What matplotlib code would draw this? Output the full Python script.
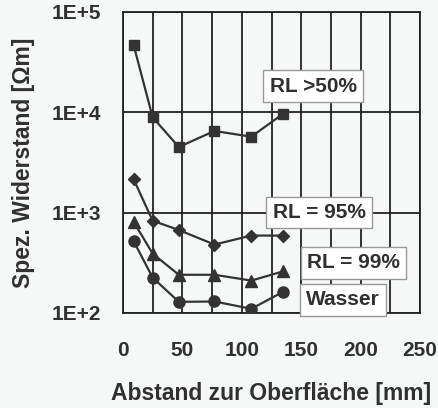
import matplotlib.pyplot as plt
import numpy as np

# Abstand zur Oberfläche [mm]
abstand = [9, 25, 47, 77, 108, 135]

# Spez. Widerstand [Ohm m]
rl_50 = [46700, 8900, 4500, 6500, 5700, 9700]
rl_95 = [2150, 830, 670, 480, 590, 590]
rl_99 = [810, 390, 240, 240, 210, 260]
wasser = [520, 225, 129, 130, 110, 163]

series = [
    (rl_50, 's', 'RL >50%', (160, 10 ** 4.26)),
    (rl_95, 'D', 'RL = 95%', (165, 10 ** 3.0)),
    (rl_99, '^', 'RL = 99%', (194, 10 ** 2.5)),
    (wasser, 'o', 'Wasser', (185, 10 ** 2.13)),
]

plt.rcParams['font.family'] = ['Liberation Sans', 'DejaVu Sans']
plt.rcParams['font.weight'] = 'bold'

fig = plt.figure(figsize=(4.39, 4.08), dpi=100)
fig.patch.set_facecolor('#f6f8f8')
ax = fig.add_axes([0.280, 0.233, 0.677, 0.738])
ax.set_facecolor('#f6f8f8')

dark = '#333333'
msizes = {'s': 7.5, 'D': 6.5, '^': 8, 'o': 8}
for vals, m, label, pos in series:
    ax.plot(abstand, vals, color=dark, marker=m, markersize=msizes[m],
            linewidth=1.6, markerfacecolor=dark, markeredgecolor=dark,
            zorder=3)
    ax.text(pos[0], pos[1], label, fontsize=15, fontweight='bold',
            color='#303030', ha='center', va='center', zorder=4,
            bbox=dict(boxstyle='square,pad=0.3', facecolor='white',
                      edgecolor='#999999', linewidth=1))

ax.set_yscale('log')
ax.set_xlim(0, 250)
ax.set_ylim(1e2, 1e5)
ax.set_xticks(np.arange(0, 251, 50))
ax.set_xticks(np.arange(0, 251, 25), minor=True)
ax.set_yticks([1e2, 1e3, 1e4, 1e5], labels=['1E+2', '1E+3', '1E+4', '1E+5'])
ax.yaxis.set_minor_locator(plt.NullLocator())
ax.grid(which='both', axis='x', color='#222222', linewidth=1.3)
ax.grid(which='major', axis='y', color='#222222', linewidth=1.3)
ax.tick_params(which='both', length=0)
ax.tick_params(axis='x', pad=20, labelsize=15, labelcolor='#303030')
ax.tick_params(axis='y', pad=16, labelsize=15, labelcolor='#303030')
for sp in ax.spines.values():
    sp.set_color('#222222')
    sp.set_linewidth(1.3)

ax.set_xlabel('Abstand zur Oberfläche [mm]', fontsize=16.5, fontweight='bold',
              color='#303030', labelpad=16)
ax.set_ylabel('Spez. Widerstand [Ωm]', fontsize=16.5, fontweight='bold',
              color='#303030', labelpad=12)

plt.savefig('out.png', dpi=100, facecolor=fig.get_facecolor())
